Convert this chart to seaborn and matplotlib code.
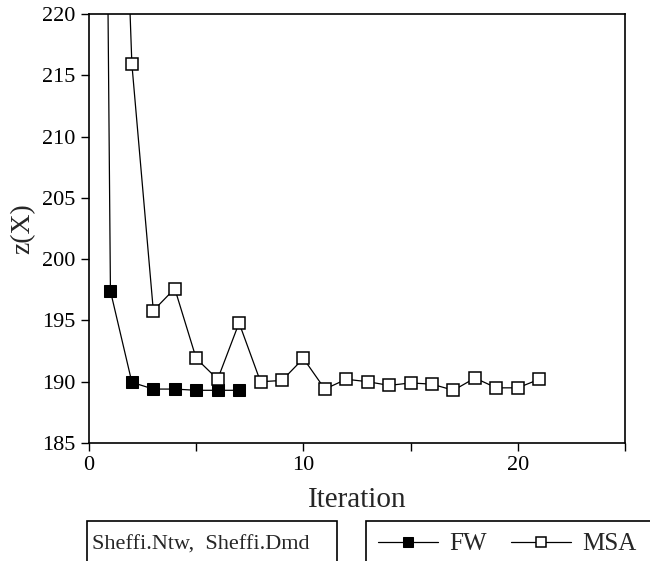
import numpy as np
import pandas as pd
import matplotlib
matplotlib.use("Agg")
import matplotlib.pyplot as plt
import seaborn as sns
from matplotlib.patches import Rectangle
from matplotlib.ticker import MultipleLocator

# values (first point of each run lies above the plot)
fw_iter = [0, 1, 2, 3, 4, 5, 6, 7]
fw_z = [400, 197.4, 189.95, 189.4, 189.4, 189.3, 189.3, 189.3]
msa_iter = list(range(1, 22))
msa_z = [265, 215.9, 195.8, 197.6, 191.9, 190.2, 194.8, 190.0, 190.1, 191.9,
         189.4, 190.2, 190.0, 189.7, 189.9, 189.8, 189.3, 190.3, 189.5, 189.5, 190.2]
y_ticks = [185, 190, 195, 200, 205, 210, 215, 220]
x_ticks = [0, 10, 20]
caption = "Sheffi.Ntw,  Sheffi.Dmd"

fw = pd.DataFrame({"Iteration": fw_iter, "z": fw_z, "method": "FW"})
msa = pd.DataFrame({"Iteration": msa_iter, "z": msa_z, "method": "MSA"})

sns.set_style("ticks")
plt.rcParams["font.family"] = ["Liberation Serif", "DejaVu Serif"]

fig = plt.figure(figsize=(6.5, 5.61), dpi=100)
W, H = 650, 561
ax = fig.add_axes([89 / W, 1 - 443 / H, 536 / W, 429 / H])

sns.lineplot(data=fw, x="Iteration", y="z", ax=ax, color="black", lw=0.9,
             marker="s", markersize=8.5, markerfacecolor="black",
             markeredgecolor="black", label="FW")
sns.lineplot(data=msa, x="Iteration", y="z", ax=ax, color="black", lw=0.9,
             marker="s", markersize=8.5, markerfacecolor="white",
             markeredgecolor="black", markeredgewidth=1.1, label="MSA")

ax.set_xlim(0, 25)
ax.set_ylim(185, 220)
ax.set_xticks(x_ticks)
ax.xaxis.set_minor_locator(MultipleLocator(5))
ax.set_yticks(y_ticks)
ax.tick_params(axis="both", which="both", direction="out", length=6, width=1,
               labelsize=16, colors="black")
ax.tick_params(axis="x", pad=3)
for s in ax.spines.values():
    s.set_visible(True)
    s.set_linewidth(1.2)
    s.set_color("black")

ax.set_xlabel("Iteration", fontsize=21, labelpad=9)
ax.set_ylabel("z(X)", fontsize=20, labelpad=5)

handles, labels = ax.get_legend_handles_labels()
ax.get_legend().remove()

# caption box and legend box below the plot (bottoms cut by the page edge)
fig.add_artist(Rectangle((87 / W, -0.05), 250 / W, 0.05 + 1 - 521 / H,
                         transform=fig.transFigure, fill=False, lw=1.2,
                         edgecolor="black", clip_on=False))
fig.add_artist(Rectangle((366 / W, -0.05), 0.5, 0.05 + 1 - 521 / H,
                         transform=fig.transFigure, fill=False, lw=1.2,
                         edgecolor="black", clip_on=False))
fig.text(92 / W, 1 - 545 / H, caption, fontsize=16, va="center", ha="left")
fig.legend(handles, labels, loc="center left",
           bbox_to_anchor=(378 / W, 1 - 544 / H), ncol=2, frameon=False,
           fontsize=18, handlelength=2.4, handletextpad=0.45,
           columnspacing=0.95, borderpad=0, borderaxespad=0, markerscale=0.85)

fig.savefig("out.png", dpi=100)
